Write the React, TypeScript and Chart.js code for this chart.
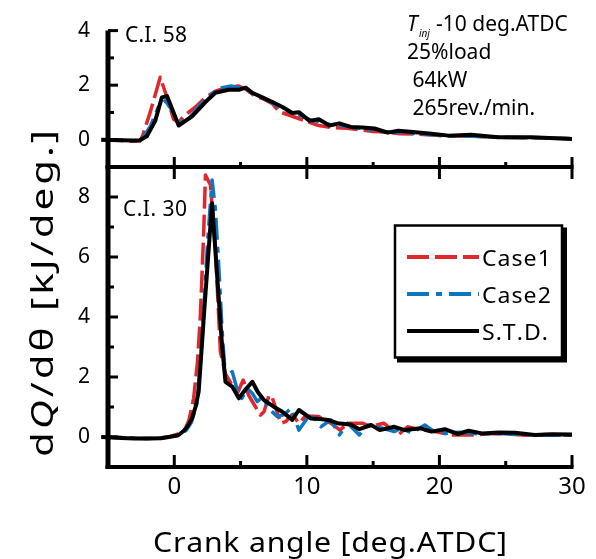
import React, { useEffect, useRef } from 'react';
import { Chart, registerables } from 'chart.js';

Chart.register(...registerables);

const FONT = '"Noto Sans", "DejaVu Sans", sans-serif';
const RED = '#E0282C';
const BLUE = '#0C76C0';
const BLACK = '#000000';

const CASE1_DASH = [22, 6];
const CASE2_DASH = [22, 7, 6, 7];

const seriesNames = ['Case1', 'Case2', 'S.T.D.'];
const panelLabels = ['C.I. 58', 'C.I. 30'];
const injectionLabel = '-10 deg.ATDC';
const conditionLines = ['25%load', ' 64kW', ' 265rev./min.'];
const xTitle = 'Crank angle [deg.ATDC]';

// axis ticks (labelled ticks are the major ones)
const xMajorTicks = [0, 10, 20, 30];
const xMinorTicks = [5, 15, 25];
const topMajorTicks = [0, 2, 4];
const topMinorTicks = [1, 3];
const bottomMajorTicks = [0, 2, 4, 6, 8];
const bottomMinorTicks = [1, 3, 5, 7];

// ---- C.I. 58 : heat release rate [kJ/deg.] vs crank angle [deg.ATDC]
const topStdAngle = [-5.5, -4, -3, -2.6, -2.07, -1.44, -0.94, -0.55, 0.33, 1.34, 2.35, 3.1, 4.1, 4.87, 5.38, 5.88, 6.64, 7.4, 8.16, 8.9, 9.4, 10.2, 10.9, 11.7, 12.45, 13.3, 14.2, 15.1, 16.1, 16.9, 18.0, 19.4, 20.7, 22.4, 24.4, 27, 30];
const topStdRate = [0, -0.02, -0.03, -0.02, 0.13, 0.69, 1.55, 1.6, 0.52, 0.86, 1.38, 1.72, 1.83, 1.83, 1.91, 1.72, 1.55, 1.38, 1.2, 0.98, 1.01, 0.69, 0.75, 0.52, 0.6, 0.47, 0.45, 0.41, 0.26, 0.33, 0.28, 0.22, 0.15, 0.18, 0.09, 0.09, 0.03];

const topCase1Angle = [-5.5, -4, -3, -2.6, -2.4, -1.8, -1.06, -0.55, -0.05, 0.33, 0.7, 1.6, 2.35, 3.1, 3.84, 4.87, 5.4, 6.1, 6.8, 7.4, 7.9, 8.9, 9.9, 10.9, 11.9, 13, 14, 15, 16, 17, 18.5, 20, 21.5, 23, 25, 27.5, 30];
const topCase1Rate = [0, -0.03, -0.06, -0.05, 0.13, 1.03, 2.29, 1.55, 0.75, 0.64, 0.86, 1.2, 1.55, 1.78, 1.9, 1.97, 1.85, 1.6, 1.48, 1.32, 1.03, 0.86, 0.69, 0.52, 0.44, 0.42, 0.36, 0.3, 0.28, 0.22, 0.2, 0.15, 0.14, 0.12, 0.08, 0.07, 0.04];

const topCase2Angle = [-5.5, -4, -3, -2.4, -1.8, -1.2, -0.68, -0.2, 0.33, 1.2, 2.0, 2.8, 3.5, 4.3, 4.9, 5.4, 6.0, 6.8, 7.5, 8.2, 9.0, 9.6, 10.3, 11, 11.8, 12.6, 13.5, 14.5, 15.5, 16.5, 18, 19.5, 21, 23, 25, 27.5, 30];
const topCase2Rate = [0, -0.02, -0.04, 0.05, 0.5, 1.2, 1.43, 1.1, 0.6, 0.85, 1.3, 1.68, 1.9, 1.97, 1.9, 1.82, 1.68, 1.5, 1.32, 1.12, 0.95, 0.88, 0.72, 0.66, 0.55, 0.52, 0.45, 0.4, 0.3, 0.28, 0.24, 0.18, 0.15, 0.12, 0.09, 0.07, 0.04];

// ---- C.I. 30
const bottomStdAngle = [-5.5, -4, -3, -2, -1, -0.3, 0.3, 0.7, 1.0, 1.34, 1.6, 1.84, 2.22, 2.6, 2.85, 3.23, 3.6, 3.86, 4.37, 4.87, 5.4, 5.89, 6.3, 6.77, 7.5, 8.15, 8.9, 9.4, 10.3, 11.0, 11.6, 12.3, 13.3, 13.96, 14.85, 15.5, 16.6, 17.4, 18.6, 19.4, 20.4, 21.4, 22.2, 23.2, 24.5, 25.7, 27.2, 28.5, 30];
const bottomStdRate = [0, -0.03, -0.05, -0.05, -0.04, 0.01, 0.06, 0.2, 0.35, 0.62, 1.0, 1.51, 3.96, 6.29, 7.79, 5.4, 3.07, 1.84, 1.68, 1.29, 1.6, 1.84, 1.5, 1.23, 1.01, 0.84, 0.57, 0.9, 0.62, 0.6, 0.57, 0.46, 0.42, 0.26, 0.4, 0.23, 0.34, 0.23, 0.29, 0.18, 0.26, 0.1, 0.21, 0.12, 0.15, 0.14, 0.07, 0.09, 0.08];

const bottomCase1Angle = [-5.5, -4, -3, -2, -1, -0.3, 0.3, 0.8, 1.1, 1.46, 1.75, 1.97, 2.22, 2.35, 2.73, 3.1, 3.48, 3.86, 4.37, 4.8, 5.2, 5.6, 6.0, 6.5, 6.77, 7.15, 7.4, 8.03, 8.4, 8.9, 9.4, 9.9, 10.9, 11.8, 12.5, 13.1, 14.2, 14.8, 15.8, 16.9, 17.6, 18.6, 19.5, 20.9, 22.7, 23.7, 25, 26.5, 28, 30];
const bottomCase1Rate = [0, -0.02, -0.04, -0.05, -0.03, 0.02, 0.1, 0.25, 0.55, 1.29, 2.5, 4.07, 6.84, 8.73, 8.4, 6.29, 2.84, 2.1, 1.73, 1.5, 1.9, 1.4, 1.1, 0.73, 0.84, 1.4, 1.3, 0.46, 0.51, 0.75, 0.46, 0.7, 0.68, 0.46, 0.23, 0.46, 0.46, 0.34, 0.46, 0.07, 0.34, 0.23, 0.2, 0.07, 0.07, 0.12, 0.1, 0.06, 0.08, 0.06];

const bottomCase2Angle = [-5.5, -4, -3, -2, -1, -0.3, 0.3, 0.9, 1.3, 1.7, 2.1, 2.5, 2.85, 3.1, 3.35, 3.6, 3.86, 4.37, 4.8, 5.1, 5.5, 5.9, 6.26, 6.7, 7.1, 7.78, 8.3, 8.8, 9.4, 10.3, 11.06, 11.8, 12.45, 13.08, 13.96, 14.6, 15.7, 16.6, 17.1, 17.9, 18.9, 19.6, 20.5, 21.5, 23, 24.5, 26, 28, 30];
const bottomCase2Rate = [0, -0.02, -0.04, -0.05, -0.03, 0.0, 0.05, 0.22, 0.5, 1.1, 3.2, 6.4, 8.57, 7.6, 5.73, 3.6, 1.96, 2.18, 1.5, 1.29, 1.62, 1.45, 1.18, 1.35, 0.95, 0.68, 0.75, 0.96, 0.23, 0.79, 0.34, 0.57, 0.07, 0.46, 0.07, 0.4, 0.29, 0.18, 0.29, 0.14, 0.4, 0.18, 0.12, 0.16, 0.1, 0.12, 0.08, 0.07, 0.06];

const WIDTH = 596;
const HEIGHT = 559;

const toPoints = (angle: number[], rate: number[]) => angle.map((a, i) => ({ x: a, y: rate[i] }));

const lineStyle = (color: string, dash: number[], width: number) => ({
  borderColor: color,
  borderWidth: width,
  borderDash: dash,
  borderCapStyle: 'butt' as const,
  borderJoinStyle: 'round' as const,
  pointRadius: 0,
  pointHoverRadius: 0,
  tension: 0,
  fill: false,
  clip: { left: 8, top: 0, right: 2, bottom: 0 },
});

const panelDatasets = (
  stdA: number[], stdR: number[], c1A: number[], c1R: number[], c2A: number[], c2R: number[],
) => [
  // first listed is painted last (on top)
  { label: seriesNames[2], data: toPoints(stdA, stdR), ...lineStyle(BLACK, [], 4) },
  { label: seriesNames[1], data: toPoints(c2A, c2R), ...lineStyle(BLUE, CASE2_DASH, 3.5) },
  { label: seriesNames[0], data: toPoints(c1A, c1R), ...lineStyle(RED, CASE1_DASH, 3.5) },
];

// text drawn character by character: optional horizontal stretch and extra spacing
function drawSpread(
  ctx: CanvasRenderingContext2D,
  runs: [string, boolean][],
  size: number,
  x: number,
  y: number,
  width: number | null,
  align: 'left' | 'center',
  stretch = 1,
  extraGap = 0,
) {
  const fontOf = (italic: boolean) => `${italic ? 'italic ' : ''}${size}px ${FONT}`;
  let natural = 0;
  let count = 0;
  for (const [t, it] of runs) {
    ctx.font = fontOf(it);
    for (const ch of t) {
      natural += ctx.measureText(ch).width * stretch;
      count += 1;
    }
  }
  const gap = width == null ? extraGap : (width - natural) / Math.max(1, count - 1);
  const total = natural + gap * (count - 1);
  let cx = align === 'center' ? x - total / 2 : x;
  ctx.textAlign = 'left';
  for (const [t, it] of runs) {
    ctx.font = fontOf(it);
    for (const ch of t) {
      ctx.save();
      ctx.translate(cx, y);
      ctx.scale(stretch, 1);
      ctx.fillText(ch, 0, 0);
      ctx.restore();
      cx += ctx.measureText(ch).width * stretch + gap;
    }
  }
}

const seg = (ctx: CanvasRenderingContext2D, x1: number, y1: number, x2: number, y2: number) => {
  ctx.beginPath();
  ctx.moveTo(x1, y1);
  ctx.lineTo(x2, y2);
  ctx.stroke();
};

// upper panel: its y axis, the shared middle axis and the operating condition
const topDecorations = {
  id: 'topDecorations',
  afterDatasetsDraw(chart: any) {
    const { ctx, chartArea } = chart;
    const xs = chart.scales.x;
    const ys = chart.scales.y;
    const { left, right, top, bottom } = chartArea;
    ctx.save();
    ctx.strokeStyle = BLACK;
    ctx.lineCap = 'butt';
    ctx.setLineDash([]);
    ctx.lineWidth = 5;
    seg(ctx, left, top, left, bottom);
    ctx.lineWidth = 4;
    seg(ctx, left - 2.5, bottom, right + 1.5, bottom);
    ctx.lineWidth = 3;
    topMajorTicks.forEach((v) => seg(ctx, left, ys.getPixelForValue(v), left + 10, ys.getPixelForValue(v)));
    topMinorTicks.forEach((v) => seg(ctx, left, ys.getPixelForValue(v), left + 6, ys.getPixelForValue(v)));
    xMajorTicks.forEach((v) => {
      const px = xs.getPixelForValue(v);
      seg(ctx, px, bottom - 10, px, bottom + 12);
    });
    xMinorTicks.forEach((v) => {
      const px = xs.getPixelForValue(v);
      seg(ctx, px, bottom - 5, px, bottom + 1);
    });
    ctx.restore();
  },
  afterDraw(chart: any) {
    const { ctx } = chart;
    ctx.save();
    ctx.fillStyle = BLACK;
    ctx.textBaseline = 'alphabetic';
    drawSpread(ctx, [[panelLabels[0], false]], 21, 125, 42, 62, 'left');
    ctx.textAlign = 'left';
    ctx.font = `italic 21px ${FONT}`;
    ctx.fillText('T', 407, 31);
    ctx.font = `italic 10px ${FONT}`;
    ctx.fillText('inj', 419, 37);
    ctx.font = `21px ${FONT}`;
    ctx.fillText(injectionLabel, 436, 31);
    conditionLines.forEach((t, i) => ctx.fillText(t, 407, 59 + i * 28));
    ctx.restore();
  },
};

// lower panel: its axes, legend and the axis titles
const bottomDecorations = {
  id: 'bottomDecorations',
  afterDatasetsDraw(chart: any) {
    const { ctx, chartArea } = chart;
    const xs = chart.scales.x;
    const ys = chart.scales.y;
    const { left, right, top, bottom } = chartArea;
    ctx.save();
    ctx.strokeStyle = BLACK;
    ctx.lineCap = 'butt';
    ctx.setLineDash([]);
    ctx.lineWidth = 5;
    seg(ctx, left, top - 1, left, bottom + 2);
    ctx.lineWidth = 4;
    seg(ctx, left - 2.5, bottom, right + 1.5, bottom);
    ctx.lineWidth = 3;
    bottomMajorTicks.forEach((v) => seg(ctx, left, ys.getPixelForValue(v), left + 10, ys.getPixelForValue(v)));
    bottomMinorTicks.forEach((v) => seg(ctx, left, ys.getPixelForValue(v), left + 6, ys.getPixelForValue(v)));
    xMajorTicks.forEach((v) => {
      const px = xs.getPixelForValue(v);
      seg(ctx, px, bottom - 12, px, bottom);
    });
    xMinorTicks.forEach((v) => {
      const px = xs.getPixelForValue(v);
      seg(ctx, px, bottom - 6, px, bottom);
    });
    ctx.restore();
  },
  afterDraw(chart: any) {
    const { ctx } = chart;
    ctx.save();
    ctx.fillStyle = BLACK;
    ctx.textBaseline = 'alphabetic';
    drawSpread(ctx, [[panelLabels[1], false]], 21, 123, 216, 64, 'left');

    // legend box with drop shadow
    const bx = 395, by = 225.5, bw = 167, bh = 132;
    ctx.fillStyle = BLACK;
    ctx.fillRect(bx + 2, by + 2, bw + 3, bh + 3);
    ctx.fillStyle = '#ffffff';
    ctx.fillRect(bx, by, bw, bh);
    ctx.strokeStyle = BLACK;
    ctx.lineWidth = 2.5;
    ctx.strokeRect(bx, by, bw, bh);
    const legendStyles: [string, number[]][] = [[RED, CASE1_DASH], [BLUE, CASE2_DASH], [BLACK, []]];
    legendStyles.forEach(([color, dash], i) => {
      const ly = 257 + i * 37;
      ctx.strokeStyle = color;
      ctx.lineWidth = 4;
      ctx.setLineDash(dash);
      seg(ctx, 407, ly, 479, ly);
      ctx.setLineDash([]);
      ctx.fillStyle = BLACK;
      drawSpread(ctx, [[seriesNames[i], false]], 22, 482, ly + 9, null, 'left', 1.05, 1);
    });

    // axis titles
    drawSpread(ctx, [[xTitle, false]], 28, 330, 552, 354, 'center', 1.08);
    ctx.translate(53, 293.5);
    ctx.rotate(-Math.PI / 2);
    drawSpread(ctx, [['d', false], ['Q', true], ['/d\u03B8 [kJ/deg.]', false]], 31, 0, 0, 327, 'center', 1.3);
    ctx.restore();
  },
};

function buildPanel(
  canvas: HTMLCanvasElement,
  datasets: any[],
  yMax: number,
  yLabels: number[],
  padTop: number,
  xHeight: number,
  showXLabels: boolean,
  plugin: any,
) {
  return new Chart(canvas, {
    type: 'line',
    data: { datasets },
    options: {
      responsive: false,
      animation: false,
      devicePixelRatio: 1,
      layout: { padding: { left: 0, top: padTop, right: 24, bottom: 0 } },
      plugins: { legend: { display: false }, tooltip: { enabled: false } },
      scales: {
        x: {
          type: 'linear',
          position: 'bottom',
          min: -5,
          max: 30,
          grid: { display: false, drawTicks: false },
          border: { display: false },
          ticks: {
            display: showXLabels,
            stepSize: 5,
            autoSkip: false,
            maxRotation: 0,
            padding: 6,
            color: BLACK,
            font: { family: FONT, size: 24 },
            callback: (v: any) => (xMajorTicks.includes(Number(v)) ? String(v) : ''),
          },
          afterFit: (s: any) => {
            s.height = xHeight;
          },
        },
        y: {
          type: 'linear',
          position: 'left',
          min: -1,
          max: yMax,
          grid: { display: false, drawTicks: false },
          border: { display: false },
          ticks: {
            stepSize: 1,
            autoSkip: false,
            padding: 18,
            color: BLACK,
            font: { family: FONT, size: 21 },
            callback: (v: any) => (yLabels.includes(Number(v)) ? String(v) : ''),
          },
          afterFit: (s: any) => {
            s.width = 108;
          },
        },
      } as any,
    },
    plugins: [plugin],
  });
}

export default function App() {
  const topRef = useRef<HTMLCanvasElement>(null);
  const bottomRef = useRef<HTMLCanvasElement>(null);

  useEffect(() => {
    if (!topRef.current || !bottomRef.current) return;
    const upper = buildPanel(
      topRef.current,
      panelDatasets(topStdAngle, topStdRate, topCase1Angle, topCase1Rate, topCase2Angle, topCase2Rate),
      4,
      topMajorTicks,
      21,
      HEIGHT - 167,
      false,
      topDecorations,
    );
    const lower = buildPanel(
      bottomRef.current,
      panelDatasets(bottomStdAngle, bottomStdRate, bottomCase1Angle, bottomCase1Rate, bottomCase2Angle, bottomCase2Rate),
      9,
      bottomMajorTicks,
      167,
      HEIGHT - 467,
      true,
      bottomDecorations,
    );
    return () => {
      upper.destroy();
      lower.destroy();
    };
  }, []);

  const layer = { position: 'absolute' as const, left: 0, top: 0, width: WIDTH, height: HEIGHT, display: 'block' };
  return (
    <div style={{ position: 'fixed', left: 0, top: 0, width: WIDTH, height: HEIGHT, background: '#ffffff' }}>
      <canvas ref={topRef} width={WIDTH} height={HEIGHT} style={layer} />
      <canvas ref={bottomRef} width={WIDTH} height={HEIGHT} style={layer} />
    </div>
  );
}
